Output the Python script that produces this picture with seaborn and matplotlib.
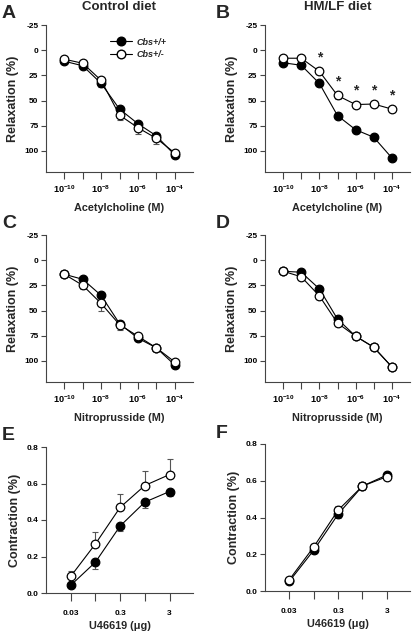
import numpy as np
import pandas as pd
import matplotlib
matplotlib.use("Agg")
import matplotlib.pyplot as plt
from matplotlib.lines import Line2D
import seaborn as sns

# --- Data ---
doses = [1e-10, 1e-9, 1e-8, 1e-7, 1e-6, 1e-5, 1e-4]
dose_labels = [r"$\mathbf{10^{-10}}$", "", r"$\mathbf{10^{-8}}$", "",
               r"$\mathbf{10^{-6}}$", "", r"$\mathbf{10^{-4}}$"]

# Panel A: control diet, acetylcholine
ctrl_ach_wt = [11, 15.5, 33, 58.5, 73, 85, 104]
ctrl_ach_wt_se = [2, 2, 4, 2, 3, 3, 2]
ctrl_ach_het = [9, 13, 30, 64.5, 77, 87.5, 102]
ctrl_ach_het_se = [2, 2, 3, 5, 6, 6, 2]

# Panel B: HM/LF diet, acetylcholine
hm_ach_wt = [12.5, 15, 33, 65, 79, 86.5, 107]
hm_ach_wt_se = [2, 2, 3, 2, 2, 2, 2]
hm_ach_het = [8, 8, 21, 45, 54, 53.5, 58.5]
hm_ach_het_se = [2, 2, 3, 3, 3, 3, 3]

# Panel C: control diet, nitroprusside
ctrl_snp_wt = [14, 19, 35, 63, 77.5, 87, 104]
ctrl_snp_wt_se = [2, 2, 3, 4, 3, 2, 2]
ctrl_snp_het = [14, 25, 43, 64, 75.5, 87, 101]
ctrl_snp_het_se = [2, 4, 7, 5, 4, 2, 2]

# Panel D: HM/LF diet, nitroprusside
hm_snp_wt = [11, 12, 28.5, 58.5, 75.5, 86.5, 106]
hm_snp_wt_se = [1, 2, 2, 3, 2, 2, 2]
hm_snp_het = [11, 16.5, 35.5, 62.5, 75.5, 86.5, 106]
hm_snp_het_se = [1, 2, 3, 3, 3, 2, 2]

# Panels E/F: U46619 contraction
u_doses = ["0.03", "0.1", "0.3", "1", "3"]
u_labels = ["0.03", "", "0.3", "", "3"]
ctrl_u_wt = [0.042, 0.169, 0.367, 0.498, 0.556]
ctrl_u_wt_se = [0.015, 0.04, 0.03, 0.03, 0.025]
ctrl_u_het = [0.091, 0.269, 0.469, 0.589, 0.649]
ctrl_u_het_se = [0.027, 0.064, 0.076, 0.08, 0.084]
hm_u_wt = [0.053, 0.222, 0.418, 0.571, 0.631]
hm_u_wt_se = [0.01, 0.015, 0.02, 0.02, 0.02]
hm_u_het = [0.062, 0.24, 0.44, 0.571, 0.622]
hm_u_het_se = [0.01, 0.015, 0.025, 0.02, 0.025]

# significance stars in panel B (Cbs+/- vs Cbs+/+)
hm_ach_sig = [False, False, True, True, True, True, True]

# --- Style ---
sns.set_theme(style="ticks")
plt.rcParams["font.family"] = ["Liberation Sans", "DejaVu Sans"]
plt.rcParams.update({
    "mathtext.fontset": "custom",
    "mathtext.rm": "Liberation Sans",
    "mathtext.bf": "Liberation Sans:bold",
    "axes.edgecolor": "#444444",
    "axes.linewidth": 0.8,
    "xtick.color": "#444444",
    "ytick.color": "#444444",
    "xtick.labelcolor": "black",
    "ytick.labelcolor": "black",
})

W, H = 412, 632
fig = plt.figure(figsize=(W / 100, H / 100), dpi=100)


def px_axes(left, top, right, bottom):
    return fig.add_axes([left / W, 1 - bottom / H, (right - left) / W, (bottom - top) / H])


ERR_COL = "#555555"
MS = 6.2
XLAB_FS = 7.8
YLAB_FS = 9


def draw_series(ax, x, y, se, filled, direction=1):
    xe = np.arange(len(x)) if isinstance(x[0], str) else x
    if direction > 0:
        yerr = [np.zeros(len(se)), se]
    else:
        yerr = [se, np.zeros(len(se))]
    ax.errorbar(xe, y, yerr=yerr, fmt="none", ecolor=ERR_COL, elinewidth=0.8,
                capsize=2, capthick=0.8, zorder=2)
    df = pd.DataFrame({"x": xe, "y": y})
    sns.lineplot(data=df, x="x", y="y", ax=ax, color="black", linewidth=0.8,
                 marker="o", markersize=MS,
                 markerfacecolor="black" if filled else "white",
                 markeredgecolor="black", markeredgewidth=0.9,
                 zorder=4 if not filled else 3)


def style_relax(ax, xlabel):
    ax.set_xscale("log")
    ax.set_xlim(1e-11, 1e-3)
    ax.set_ylim(121, -25)
    ax.set_yticks([-25, 0, 25, 50, 75, 100])
    ax.set_yticklabels(["-25", "0", "25", "50", "75", "100"])
    ax.set_xticks(doses)
    ax.set_xticklabels(dose_labels)
    ax.minorticks_off()
    ax.tick_params(axis="x", length=5, pad=3, labelsize=6.6)
    ax.set_xlabel(xlabel, fontsize=XLAB_FS, fontweight="bold", labelpad=6)
    ax.set_ylabel("Relaxation (%)", fontsize=YLAB_FS, fontweight="bold", labelpad=4)


def style_contr(ax):
    ax.set_xlim(-1, 4.95)
    ax.set_ylim(0, 0.8)
    ax.set_yticks([0, 0.2, 0.4, 0.6, 0.8])
    ax.set_yticklabels(["0.0", "0.2", "0.4", "0.6", "0.8"])
    ax.set_xticks(range(len(u_doses)))
    ax.set_xticklabels(u_labels)
    ax.tick_params(axis="x", length=6, pad=6, labelsize=6)
    ax.set_xlabel("U46619 (\u03bcg)", fontsize=XLAB_FS, fontweight="bold", labelpad=3)
    ax.set_ylabel("Contraction (%)", fontsize=YLAB_FS, fontweight="bold", labelpad=4)


def finish(ax):
    sns.despine(ax=ax)
    ax.tick_params(axis="both", width=0.8)
    ax.tick_params(axis="y", length=3.5, pad=2, labelsize=6)
    for t in ax.get_yticklabels() + ax.get_xticklabels():
        t.set_fontweight("bold")
    ax.set_title("")


axA = px_axes(46, 25, 193, 172)
axB = px_axes(265, 25, 410, 172)
axC = px_axes(46, 235, 193, 382)
axD = px_axes(265, 235, 410, 382)
axE = px_axes(46, 447, 193, 593)
axF = px_axes(265, 444, 410, 591)

draw_series(axA, doses, ctrl_ach_wt, ctrl_ach_wt_se, True)
draw_series(axA, doses, ctrl_ach_het, ctrl_ach_het_se, False)
draw_series(axB, doses, hm_ach_wt, hm_ach_wt_se, True)
draw_series(axB, doses, hm_ach_het, hm_ach_het_se, False)
draw_series(axC, doses, ctrl_snp_wt, ctrl_snp_wt_se, True)
draw_series(axC, doses, ctrl_snp_het, ctrl_snp_het_se, False)
draw_series(axD, doses, hm_snp_wt, hm_snp_wt_se, True)
draw_series(axD, doses, hm_snp_het, hm_snp_het_se, False)
draw_series(axE, u_doses, ctrl_u_wt, ctrl_u_wt_se, True, direction=-1)
draw_series(axE, u_doses, ctrl_u_het, ctrl_u_het_se, False, direction=1)
draw_series(axF, u_doses, hm_u_wt, hm_u_wt_se, True, direction=-1)
draw_series(axF, u_doses, hm_u_het, hm_u_het_se, False, direction=1)

style_relax(axA, "Acetylcholine (M)")
style_relax(axB, "Acetylcholine (M)")
style_relax(axC, "Nitroprusside (M)")
style_relax(axD, "Nitroprusside (M)")
style_contr(axE)
style_contr(axF)
for ax in [axA, axB, axC, axD, axE, axF]:
    finish(ax)

# stars above Cbs+/- points
for xv, yv, s in zip(doses, hm_ach_het, hm_ach_sig):
    if s:
        axB.annotate("*", (xv, yv), xytext=(0, 5), textcoords="offset points",
                     ha="center", va="bottom", fontsize=10, fontweight="bold")

# legend in panel A
handles = [
    Line2D([], [], color="black", lw=0.8, marker="o", ms=MS, mfc="black", mec="black"),
    Line2D([], [], color="black", lw=0.8, marker="o", ms=MS, mfc="white", mec="black"),
]
axA.legend(handles, ["Cbs+/+", "Cbs+/-"], loc="upper left", bbox_to_anchor=(0.38, 0.97),
           frameon=False, handlelength=2.4, handletextpad=0.5, labelspacing=0.35,
           prop={"size": 6.5, "weight": "bold", "style": "italic"})

# column titles and panel letters
fig.text(119.5 / W, 1 - 7 / H, "Control diet", ha="center", va="center",
         fontsize=9.5, fontweight="bold")
fig.text(337.5 / W, 1 - 7 / H, "HM/LF diet", ha="center", va="center",
         fontsize=9.5, fontweight="bold")
for letter, (lx, ly) in zip("ABCDEF", [(2, 5), (216, 5), (2, 215), (216, 215), (2, 427), (216, 425)]):
    fig.text(lx / W, 1 - ly / H, letter, ha="left", va="top", fontsize=14, fontweight="bold")

fig.savefig("out.png", dpi=100)
